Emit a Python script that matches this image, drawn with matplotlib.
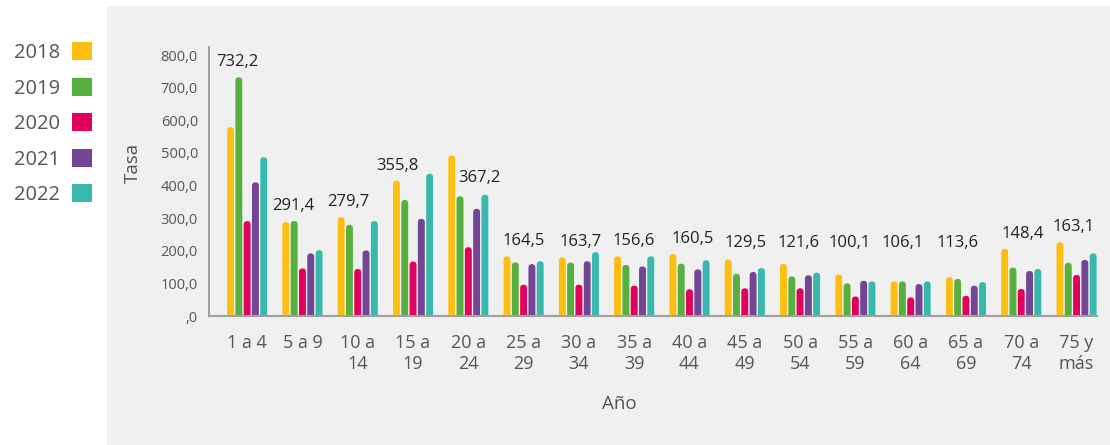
import matplotlib
matplotlib.use('Agg')
import matplotlib.pyplot as plt
from matplotlib.patches import FancyBboxPatch, Rectangle, Patch
import numpy as np

plt.rcParams['font.family'] = ['Open Sans', 'DejaVu Sans']
plt.rcParams['font.weight'] = 'medium'

# ---------------- data ----------------
age_groups = ['1 a 4', '5 a 9', '10 a\n14', '15 a\n19', '20 a\n24', '25 a\n29',
              '30 a\n34', '35 a\n39', '40 a\n44', '45 a\n49', '50 a\n54', '55 a\n59',
              '60 a\n64', '65 a\n69', '70 a\n74', '75 y\nmás']
years = ['2018', '2019', '2020', '2021', '2022']
rate_2018 = [579, 288, 303, 415, 492, 183, 180, 183, 190, 173, 160, 127, 106, 119, 206, 226]
rate_2019 = [732.2, 291.4, 279.7, 355.8, 367.2, 164.5, 163.7, 156.6, 160.5, 129.5,
             121.6, 100.1, 106.1, 113.6, 148.4, 163.1]
rate_2020 = [291, 146, 144, 167, 211, 96, 96, 93, 82, 85, 85, 60, 57, 62, 83, 126]
rate_2021 = [410, 192, 201, 298, 329, 159, 168, 152, 143, 135, 125, 108, 98, 93, 138, 172]
rate_2022 = [487, 202, 291, 436, 372, 168, 196, 183, 171, 147, 133, 106, 106, 104, 144, 192]
y_ticks = [0, 100, 200, 300, 400, 500, 600, 700, 800]

series = [rate_2018, rate_2019, rate_2020, rate_2021, rate_2022]
colors = ['#FDBE12', '#57B03E', '#E2005F', '#744595', '#39B8AD']

# label styling (pixel nudges for the 2019 value labels)
label_dx_px = [-10, -9, -9, -16, 11, 0, 2, 0, 3, 1, -1, -6, -8, -8, 2, -3]
label_floor = 178
shifted_label = 4  # 20 a 24: label sits on the 2019 bar level

W, H = 1110, 445
fig = plt.figure(figsize=(W / 100, H / 100), dpi=100)
fig.patch.set_facecolor('white')
fig.patches.append(Rectangle((107 / W, 0), 1 - 107 / W, 1 - 6 / H, transform=fig.transFigure,
                             facecolor='#F0F0F0', edgecolor='none', zorder=-5))

ax = fig.add_axes([209 / W, 1 - 316 / H, (1097 - 209) / W, (316 - 47) / H])
ax.set_facecolor('none')
ax.set_zorder(1)

n = len(age_groups)
x = np.arange(n)
step = 0.15
bw = 0.125
ax.set_xlim(-0.69, 15.37)
ax.set_ylim(0, 825)

inv = ax.transData.inverted()
(px0, py0), (px1, py1) = inv.transform([(0, 0), (1, 1)])
aspect = (py1 - py0) / (px1 - px0)

for k, (vals, col) in enumerate(zip(series, colors)):
    bars = ax.bar(x + (k - 2) * step, vals, width=bw, color=col)
    for b in bars:
        b.set_visible(False)
        r = b.get_width() / 2
        ry = r * aspect
        fp = FancyBboxPatch((b.get_x(), -ry), b.get_width(), b.get_height() + ry,
                            boxstyle=f"round,pad=0,rounding_size={r}",
                            mutation_aspect=aspect, facecolor=col, edgecolor='none', zorder=2)
        ax.add_patch(fp)

# value labels (2019)
for i in range(n):
    if i == shifted_label:
        base = rate_2019[i]
        dy = 18
    else:
        base = max(rate_2018[i], rate_2019[i], label_floor)
        dy = 15
    ax.annotate(f"{rate_2019[i]:.1f}".replace('.', ','), (x[i], base),
                xytext=(label_dx_px[i] * 0.72, dy * 0.72), textcoords='offset points',
                ha='center', va='center', fontsize=12, color='#222222', zorder=3)

# axes styling
for s in ['top', 'right']:
    ax.spines[s].set_visible(False)
for s in ['left', 'bottom']:
    ax.spines[s].set_color('#A0A0A0')
    ax.spines[s].set_linewidth(1.5)

ax.set_yticks(y_ticks)
ax.set_yticklabels([f"{v:.1f}".replace('.', ',') if v else ',0' for v in y_ticks])
ax.set_xticks(x)
ax.set_xticklabels(age_groups, multialignment='center', linespacing=1.2)
ax.tick_params(axis='y', length=0, pad=8, labelsize=10.5, labelcolor='#555555')
ax.tick_params(axis='x', length=0, pad=13, labelsize=13, labelcolor='#555555')

fig.text(133 / W, 1 - 163 / H, 'Tasa', rotation=90, ha='center', va='center',
         fontsize=13.5, color='#555555')
fig.text(619 / W, 1 - 404 / H, 'Año', ha='center', va='center', fontsize=13.5, color='#555555')

handles = [Patch(facecolor=c, edgecolor='none') for c in colors]
fig.legend(handles, years, loc='upper right', bbox_to_anchor=(92 / W, 1 - 42 / H),
           markerfirst=False, frameon=False, handlelength=1, handleheight=1,
           handletextpad=0.6, labelspacing=0.73, borderpad=0, borderaxespad=0,
           fontsize=14.5, labelcolor='#555555')

fig.savefig('out.png', dpi=100, facecolor=fig.get_facecolor())
